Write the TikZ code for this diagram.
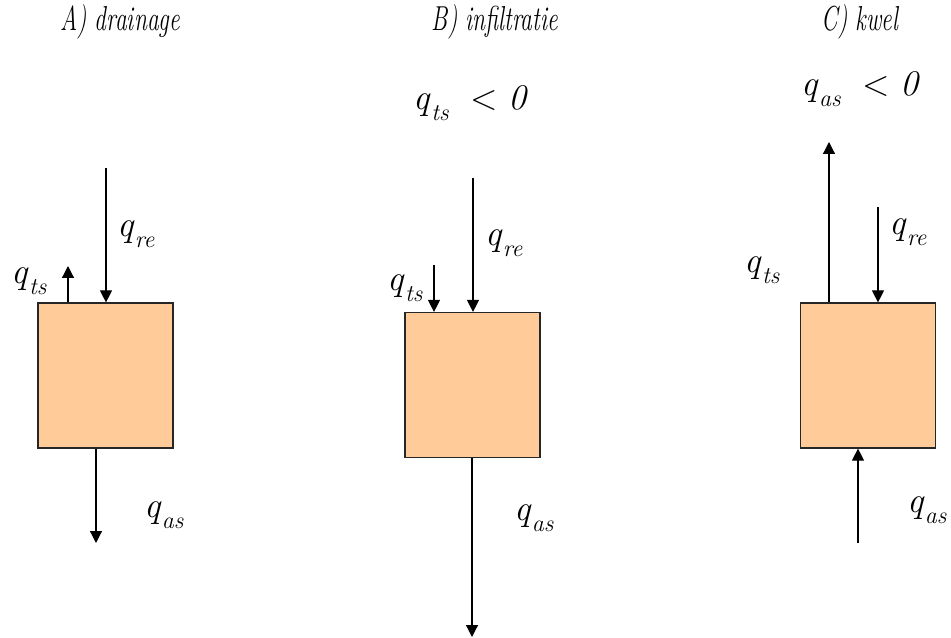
\documentclass[tikz,border=0pt]{standalone}
\usepackage{fontspec}
\newfontfamily\titelfont{Latin Modern Roman}[FakeStretch=0.68]
\usetikzlibrary{arrows.meta}
\definecolor{zand}{HTML}{FFCC99}
\newcommand{\qq}[1]{\textit{q}\raisebox{-0.3em}{\fontsize{18}{18}\selectfont\itshape #1}}

\begin{document}
\begin{tikzpicture}[x=0.75pt, y=-0.75pt,
  every node/.style={inner sep=0pt},
  blok/.style={draw=black!85, fill=zand, line width=0.9pt, minimum width=101.25pt, minimum height=108.75pt},
  pijl/.style={-{Triangle[length=9pt,width=9pt]}, line width=0.9pt},
  lbl/.style={font=\fontsize{27}{27}\selectfont},
  titel/.style={font=\titelfont\itshape\fontsize{26}{26}\selectfont}]
  \useasboundingbox (0,0) rectangle (951,638);
  % A) drainage
  \node[titel] (titA) at (120,22) {A) drainage};
  \node[blok] (boxA) at (105.5,375.5) {};
  \coordinate (reA) at (106,168);
  \coordinate (tsA) at (68,266);
  \coordinate (asA) at (96,543);
  \draw[pijl] (reA) -- (reA |- boxA.north);
  \draw[pijl] (tsA |- boxA.north) -- (tsA);
  \draw[pijl] (asA |- boxA.south) -- (asA);
  \node[lbl] (lreA) at (136,234) {\qq{re}};
  \node[lbl] (ltsA) at (29,281) {\qq{ts}};
  \node[lbl] (lasA) at (164,515) {\qq{as}};
  % B) infiltratie
  \node[titel] (titB) at (495,22) {B) infiltratie};
  \node[lbl] (condB) at (471,103) {\qq{ts}~~< \textit{0}};
  \node[blok] (boxB) at (472.5,385) {};
  \coordinate (reB) at (473,178);
  \coordinate (tsB) at (434,265);
  \coordinate (asB) at (472,637);
  \draw[pijl] (reB) -- (reB |- boxB.north);
  \draw[pijl] (tsB) -- (tsB |- boxB.north);
  \draw[pijl] (asB |- boxB.south) -- (asB);
  \node[lbl] (lreB) at (504,243) {\qq{re}};
  \node[lbl] (ltsB) at (405,288) {\qq{ts}};
  \node[lbl] (lasB) at (534,518) {\qq{as}};
  % C) kwel
  \node[titel] (titC) at (860,22) {C) kwel};
  \node[lbl] (condC) at (861,89) {\qq{as}~~< \textit{0}};
  \node[blok] (boxC) at (868,375.5) {};
  \coordinate (tsC) at (829,142);
  \coordinate (reC) at (878,207);
  \coordinate (asC) at (858,543);
  \draw[pijl] (tsC |- boxC.north) -- (tsC);
  \draw[pijl] (reC) -- (reC |- boxC.north);
  \draw[pijl] (asC) -- (asC |- boxC.south);
  \node[lbl] (ltsC) at (762,270) {\qq{ts}};
  \node[lbl] (lreC) at (908,232) {\qq{re}};
  \node[lbl] (lasC) at (927,510) {\qq{as}};
\end{tikzpicture}
\end{document}
